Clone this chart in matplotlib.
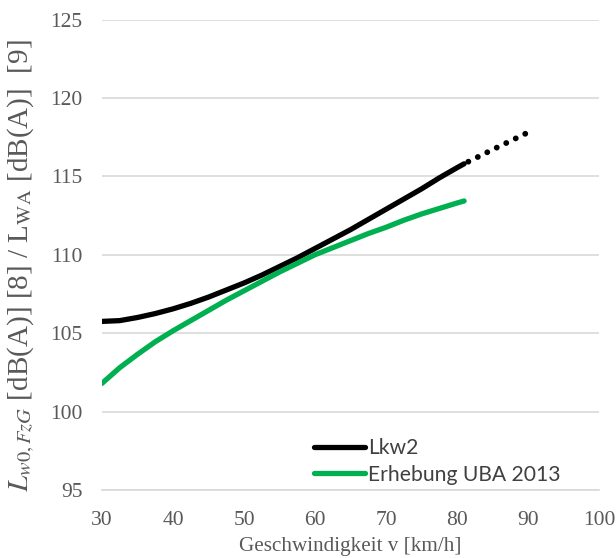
import numpy as np
import matplotlib.pyplot as plt

# Daten
v_lkw = [30, 32.5, 35, 37.5, 40, 42.5, 45, 47.5, 50, 52.5, 55, 57.5, 60, 62.5, 65,
         67.5, 70, 72.5, 75, 77.5, 80, 81]
L_lkw = [105.75, 105.8, 106.0, 106.25, 106.55, 106.9, 107.3, 107.75, 108.2, 108.7,
         109.25, 109.8, 110.4, 111.0, 111.6, 112.25, 112.9, 113.55, 114.2, 114.9,
         115.55, 115.8]
v_lkw_ext = [81, 85, 90]
L_lkw_ext = [115.8, 116.7, 117.8]

v_uba = [30, 32.5, 35, 37.5, 40, 42.5, 45, 47.5, 50, 52.5, 55, 57.5, 60, 62.5, 65,
         67.5, 70, 72.5, 75, 77.5, 80, 81]
L_uba = [101.8, 102.8, 103.65, 104.45, 105.15, 105.8, 106.45, 107.1, 107.7, 108.3,
         108.9, 109.45, 110.0, 110.45, 110.9, 111.35, 111.75, 112.2, 112.6, 112.95,
         113.3, 113.43]

x_ticks = [30, 40, 50, 60, 70, 80, 90, 100]
y_ticks = [95, 100, 105, 110, 115, 120, 125]

plt.rcParams['mathtext.fontset'] = 'stix'

fig = plt.figure(figsize=(6.16, 5.58), dpi=100)
ax = fig.add_axes([0.1656, 0.1219, 0.8068, 0.8431])

ax.plot(v_lkw, L_lkw, color='black', lw=3.8, solid_capstyle='round',
        solid_joinstyle='round', label='Lkw2')
ax.plot(v_lkw_ext, L_lkw_ext, color='black', lw=4.2, linestyle=(1.0, (0.01, 1.8)),
        dash_capstyle='round')
ax.plot(v_uba, L_uba, color='#00b050', lw=3.8, solid_capstyle='round',
        solid_joinstyle='round', label='Erhebung UBA 2013')

ax.set_xlim(30, 100)
ax.set_ylim(95, 125)
ax.set_xticks(x_ticks)
ax.set_yticks(y_ticks)
ax.grid(axis='y', color='#d9d9d9', lw=1.2)
ax.set_axisbelow(True)
for s in ['top', 'right', 'left']:
    ax.spines[s].set_visible(False)
ax.spines['bottom'].set_color('#d9d9d9')
ax.spines['bottom'].set_linewidth(1.2)
ax.tick_params(length=0, labelsize=15.5, labelcolor='#595959', pad=15)
ax.tick_params(axis='y', pad=14)
for lab in ax.get_xticklabels() + ax.get_yticklabels():
    lab.set_family('Liberation Serif')

ax.set_xlabel('Geschwindigkeit v [km/h]', family='Liberation Serif', fontsize=15.2,
              color='#595959', labelpad=5)
ax.set_ylabel(r'$L_{w0,FzG}$ [dB(A)] [8] / L$_{\rm WA}$ [dB(A)]  [9]',
              family='Liberation Serif', fontsize=21, color='#595959')
ax.yaxis.set_label_coords(-0.13, 0.477)

leg = ax.legend(loc='lower left', bbox_to_anchor=(0.388, -0.029), frameon=False,
                prop={'family': 'Lato', 'size': 15.2}, handlelength=2.4,
                handletextpad=0.15, labelspacing=0.3)
for t in leg.get_texts():
    t.set_color('#404040')

fig.savefig('out.png', dpi=100)
